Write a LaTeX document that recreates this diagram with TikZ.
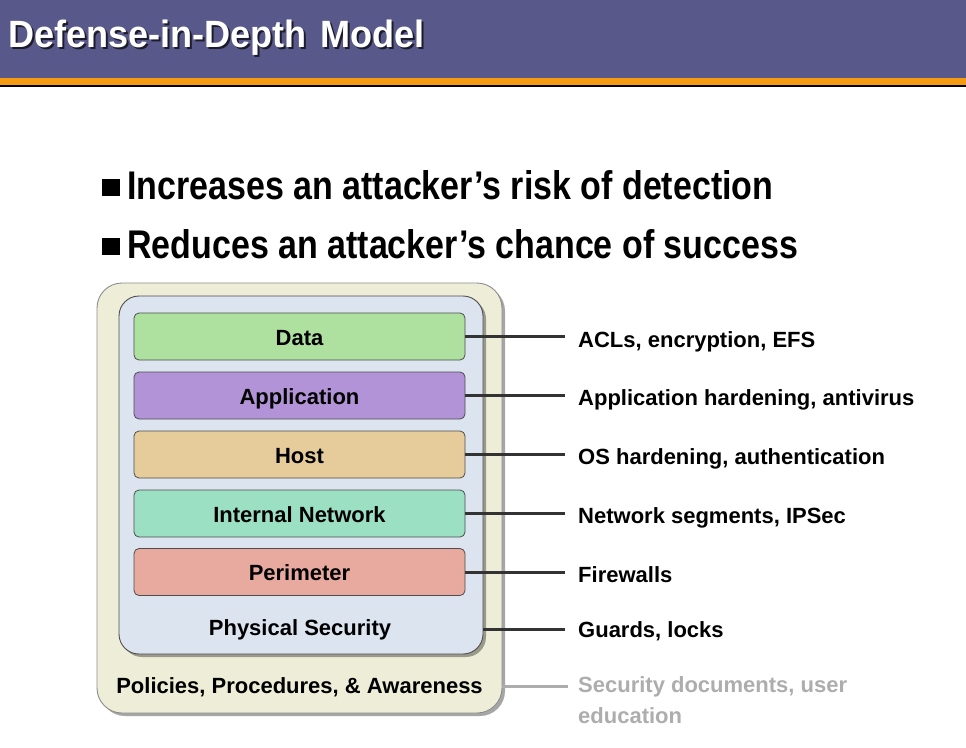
\documentclass[tikz,border=0pt]{standalone}
\usepackage{fontspec}
\setmainfont{Liberation Sans}
\newfontfamily\titlefont{Liberation Sans}[FakeStretch=0.95]
\newfontfamily\pointfont{Liberation Sans}[FakeStretch=0.85]
\usepackage{tikz}
\usepackage{xcolor}
\usetikzlibrary{shadows}
\definecolor{Bar}{HTML}{58598A}
\definecolor{Stripe}{HTML}{F59B12}
\definecolor{Shade}{HTML}{1C1C2C}
\definecolor{Policy}{HTML}{EEEED8}
\definecolor{PolicyEdge}{HTML}{8C8C8C}
\definecolor{Physical}{HTML}{DCE4F0}
\definecolor{Edge}{HTML}{4D4D4D}
\definecolor{DataFill}{HTML}{AEE0A0}
\definecolor{AppFill}{HTML}{B393D8}
\definecolor{HostFill}{HTML}{E6CC9B}
\definecolor{NetFill}{HTML}{9BE0C3}
\definecolor{PerimFill}{HTML}{E8A99E}
\definecolor{Link}{HTML}{333333}
\definecolor{Faded}{HTML}{ADADAD}

\begin{document}
\begin{tikzpicture}[x=1pt, y=-1pt,
    heading/.style={anchor=base west, inner sep=0pt, font=\titlefont\bfseries\fontsize{38}{42}\selectfont},
    point/.style={anchor=base west, inner sep=0pt, font=\pointfont\bfseries\fontsize{40}{44}\selectfont},
    square/.style={fill=black, minimum width=18pt, minimum height=17pt, inner sep=0pt},
    shell/.style={line width=0.9pt, drop shadow={shadow xshift=3pt, shadow yshift=-3pt, fill=black, opacity=0.35}},
    layer/.style={draw=Edge, line width=0.8pt, rounded corners=5pt, minimum width=331pt, minimum height=47pt, inner sep=0pt, text height=17pt, text depth=0pt, font=\bfseries\fontsize{22}{26}\selectfont},
    tag/.style={anchor=base, inner sep=0pt, font=\bfseries\fontsize{22}{26}\selectfont},
    note/.style={anchor=base west, inner sep=0pt, font=\bfseries\fontsize{22}{26}\selectfont},
    link/.style={line width=3pt, draw=Link},
    fadedlink/.style={line width=3pt, draw=Faded}
  ]
    \useasboundingbox (0,0) rectangle (966,747);
    \fill[Bar] (0,0) rectangle (966,78);
    \fill[Stripe] (0,78) rectangle (966,85);
    \draw[black, line width=2pt] (0,86) -- (966,86);

    \node[heading, text=Shade] at (10,49) {Defense-in-Depth\hspace{3pt} Model};
    \node[heading, text=white] (title) at (8,47) {Defense-in-Depth\hspace{3pt} Model};

    \node[square] (sq1) at (111,187.5) {};
    \node[point] (risk) at (127,199) {Increases an attacker’s risk of detection};
    \node[square] (sq2) at (111,246.5) {};
    \node[point] (chance) at (127,258) {Reduces an attacker’s chance of success};

    \node[shell, draw=PolicyEdge, fill=Policy, rounded corners=25pt, minimum width=405pt, minimum height=430pt] (policies) at (299.5,498) {};
    \node[shell, draw=Edge, fill=Physical, rounded corners=20pt, minimum width=364pt, minimum height=358pt] (physical) at (301,475) {};

    \node[layer, fill=DataFill] (data) at (299.5,336.5) {Data};
    \node[layer, fill=AppFill] (app) at (299.5,395.5) {Application};
    \node[layer, fill=HostFill] (host) at (299.5,454.5) {Host};
    \node[layer, fill=NetFill] (net) at (299.5,513.5) {Internal Network};
    \node[layer, fill=PerimFill] (perim) at (299.5,572) {Perimeter};
    \node[tag] (physicalT) at (300,635) {Physical Security};
    \node[tag] (policiesT) at (299.5,693) {Policies, Procedures, \& Awareness};

    \node[note] (acl) at (578,347) {ACLs, encryption, EFS};
    \node[note] (harden) at (578,405) {Application hardening, antivirus};
    \node[note] (os) at (578,464) {OS hardening, authentication};
    \node[note] (segments) at (578,523) {Network segments, IPSec};
    \node[note] (firewalls) at (578,582) {Firewalls};
    \node[note] (guards) at (578,637) {Guards, locks};
    \node[note, anchor=north west, text=Faded, align=left, font=\bfseries\fontsize{22}{31}\selectfont] (docs) at (578,676) {Security documents, user\\education};

    \draw[link] (data.east) -- ([xshift=-13pt]acl.west |- data.east);
    \draw[link] (app.east) -- ([xshift=-13pt]harden.west |- app.east);
    \draw[link] (host.east) -- ([xshift=-13pt]os.west |- host.east);
    \draw[link] (net.east) -- ([xshift=-13pt]segments.west |- net.east);
    \draw[link] (perim.east) -- ([xshift=-13pt]firewalls.west |- perim.east);
    \draw[link] (physicalT -| physical.east) -- ([xshift=-13pt]guards.west |- physicalT);
    \draw[fadedlink] (policiesT -| policies.east) -- ([xshift=-10pt]docs.west |- policiesT);
  \end{tikzpicture}
\end{document}
